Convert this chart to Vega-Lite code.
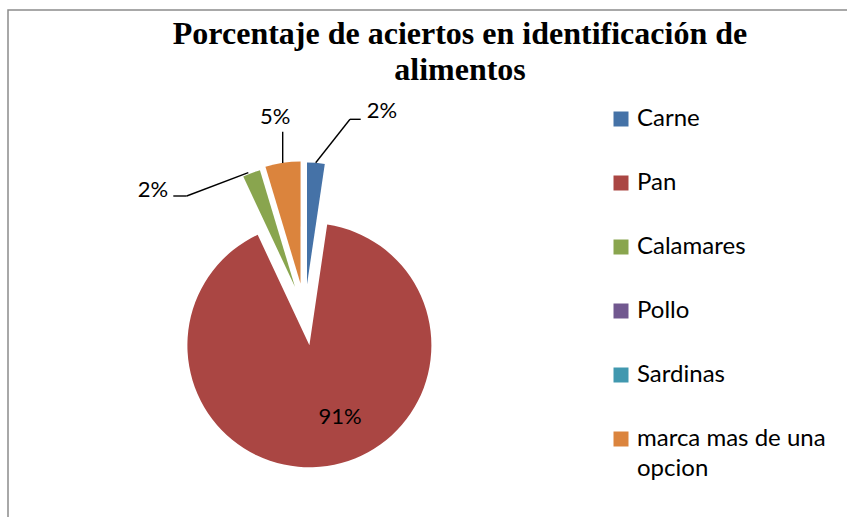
{
  "$schema": "https://vega.github.io/schema/vega-lite/v6.json",
  "width": 845,
  "height": 512,
  "autosize": {"type": "none"},
  "padding": {"left": 8, "top": 10, "right": -6, "bottom": -5},
  "background": "white",
  "config": {
    "view": {"stroke": "#8c8c8c", "strokeWidth": 1.5},
    "style": {"guide-label": {"lineHeight": 30}}
  },
  "title": {
    "text": ["Porcentaje de aciertos en identificación de", "alimentos"],
    "font": "Liberation Serif",
    "fontSize": 32,
    "fontWeight": "bold",
    "color": "black",
    "lineHeight": 36,
    "anchor": "middle",
    "frame": "group",
    "dx": 29.5,
    "offset": -77
  },
  "data": {
    "values": [
      {"categoria": "Carne", "proporcion": 0.0233},
      {"categoria": "Pan", "proporcion": 0.907},
      {"categoria": "Calamares", "proporcion": 0.0233},
      {"categoria": "Pollo", "proporcion": 0},
      {"categoria": "Sardinas", "proporcion": 0},
      {"categoria": "marca mas de una opcion", "proporcion": 0.0465}
    ]
  },
  "transform": [{"stack": "proporcion", "groupby": [], "as": ["inicio", "fin"]}],
  "layer": [
    {
      "transform": [{"filter": "datum.categoria === 'Pan'"}],
      "layer": [
        {
          "mark": {"type": "arc", "radius": 122, "xOffset": -121.1, "yOffset": 79.3, "strokeWidth": 0},
          "encoding": {
            "theta": {"field": "inicio", "type": "quantitative", "stack": null, "scale": {"domain": [0, 1]}},
            "theta2": {"field": "fin"},
            "color": {
              "field": "categoria",
              "type": "nominal",
              "scale": {
                "domain": ["Carne", "Pan", "Calamares", "Pollo", "Sardinas", "marca mas de una opcion"],
                "range": ["#4572A7", "#AA4643", "#89A54E", "#71588F", "#4198AF", "#DB843D"]
              },
              "legend": {
                "title": null,
                "orient": "none",
                "legendX": 601,
                "legendY": 97,
                "direction": "vertical",
                "symbolType": "square",
                "symbolSize": 225,
                "symbolStrokeWidth": 0,
                "labelFont": "Lato",
                "labelFontSize": 24,
                "labelColor": "black",
                "labelOffset": 4,
                "rowPadding": 40,
                "labelLimit": 400,
                "padding": 0,
                "labelExpr": "datum.label === 'marca mas de una opcion' ? ['marca mas de una', 'opcion'] : datum.label"
              }
            }
          }
        },
        {
          "mark": {"type": "text", "radius": 78, "thetaOffset": 2.592, "xOffset": -121.1, "yOffset": 79.3, "font": "Lato", "fontSize": 22, "color": "black"},
          "encoding": {
            "theta": {"field": "inicio", "type": "quantitative", "stack": null},
            "text": {"field": "proporcion", "type": "quantitative", "format": ".0%"}
          }
        }
      ]
    },
    {
      "transform": [{"filter": "datum.categoria === 'Carne'"}],
      "layer": [
        {
          "mark": {"type": "arc", "radius": 122, "xOffset": -123.5, "yOffset": 18.6, "strokeWidth": 0},
          "encoding": {
            "theta": {"field": "inicio", "type": "quantitative", "stack": null},
            "theta2": {"field": "fin"},
            "color": {"field": "categoria", "type": "nominal"}
          }
        },
        {
          "mark": {"type": "text", "radius": 189, "thetaOffset": 0.408, "xOffset": -123.5, "yOffset": 18.6, "font": "Lato", "fontSize": 22, "color": "black"},
          "encoding": {
            "theta": {"field": "inicio", "type": "quantitative", "stack": null},
            "text": {"field": "proporcion", "type": "quantitative", "format": ".0%"}
          }
        },
        {
          "mark": {"type": "rule", "color": "black", "strokeWidth": 1.4},
          "encoding": {"x": {"value": 307.7}, "y": {"value": 152.7}, "x2": {"value": 342}, "y2": {"value": 109.3}}
        },
        {
          "mark": {"type": "rule", "color": "black", "strokeWidth": 1.4},
          "encoding": {"x": {"value": 342}, "y": {"value": 109.3}, "x2": {"value": 352.7}, "y2": {"value": 109.3}}
        }
      ]
    },
    {
      "transform": [{"filter": "datum.categoria === 'Calamares'"}],
      "layer": [
        {
          "mark": {"type": "arc", "radius": 122, "xOffset": -135.5, "yOffset": 21, "strokeWidth": 0},
          "encoding": {
            "theta": {"field": "inicio", "type": "quantitative", "stack": null},
            "theta2": {"field": "fin"},
            "color": {"field": "categoria", "type": "nominal"}
          }
        },
        {
          "mark": {"type": "text", "radius": 172, "thetaOffset": -0.534, "xOffset": -135.5, "yOffset": 21, "font": "Lato", "fontSize": 22, "color": "black"},
          "encoding": {
            "theta": {"field": "inicio", "type": "quantitative", "stack": null},
            "text": {"field": "proporcion", "type": "quantitative", "format": ".0%"}
          }
        },
        {
          "mark": {"type": "rule", "color": "black", "strokeWidth": 1.4},
          "encoding": {"x": {"value": 240.3}, "y": {"value": 162.7}, "x2": {"value": 178.7}, "y2": {"value": 186}}
        },
        {
          "mark": {"type": "rule", "color": "black", "strokeWidth": 1.4},
          "encoding": {"x": {"value": 178.7}, "y": {"value": 186}, "x2": {"value": 165.3}, "y2": {"value": 186}}
        }
      ]
    },
    {
      "transform": [{"filter": "datum.categoria === 'marca mas de una opcion'"}],
      "layer": [
        {
          "mark": {"type": "arc", "radius": 122, "xOffset": -130, "yOffset": 17.5, "strokeWidth": 0},
          "encoding": {
            "theta": {"field": "inicio", "type": "quantitative", "stack": null},
            "theta2": {"field": "fin"},
            "color": {"field": "categoria", "type": "nominal"}
          }
        },
        {
          "mark": {"type": "text", "radius": 168, "thetaOffset": 0.14, "xOffset": -130, "yOffset": 17.5, "font": "Lato", "fontSize": 22, "color": "black"},
          "encoding": {
            "theta": {"field": "inicio", "type": "quantitative", "stack": null},
            "text": {"field": "proporcion", "type": "quantitative", "format": ".0%"}
          }
        },
        {
          "mark": {"type": "rule", "color": "black", "strokeWidth": 1.4},
          "encoding": {"x": {"value": 274.7}, "y": {"value": 121.7}, "x2": {"value": 274.7}, "y2": {"value": 153}}
        }
      ]
    }
  ]
}
